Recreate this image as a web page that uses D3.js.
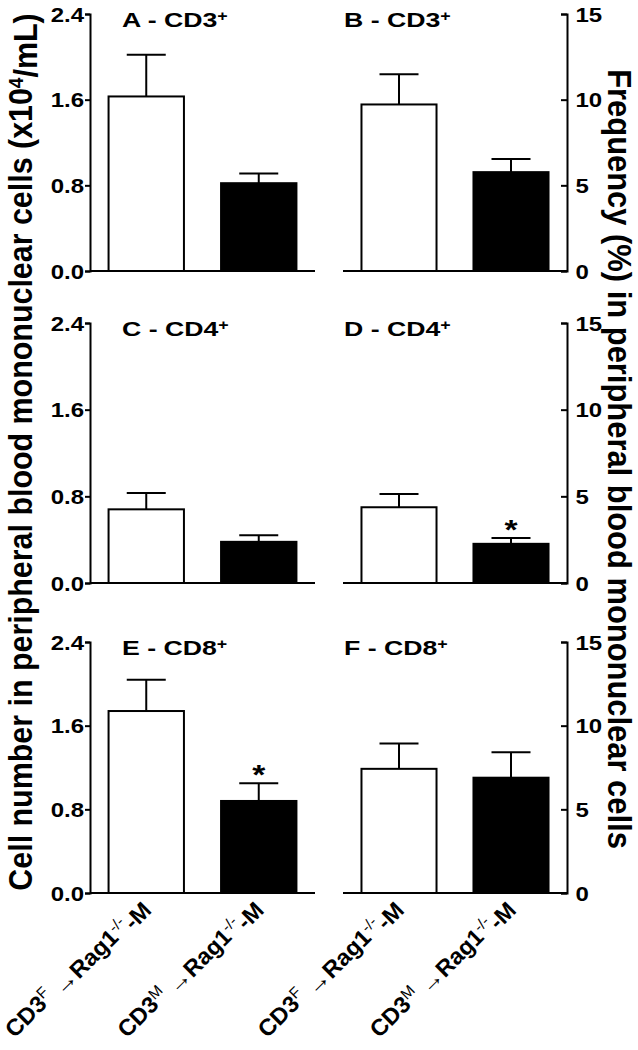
<!DOCTYPE html>
<html><head><meta charset="utf-8">
<script src="https://cdn.jsdelivr.net/npm/d3@7/dist/d3.min.js"></script>
<style>
html,body{margin:0;padding:0;background:#fff;}
text{font-family:"Liberation Sans",Arial,sans-serif;font-weight:bold;fill:#000;}
</style></head>
<body><svg id="c" width="638" height="1050"></svg>
<script>
// ---- data ----
const groups = ["CD3F-Rag1-M", "CD3M-Rag1-M"];
const groupSup = ["F", "M"];
const subsets = ["CD3", "CD4", "CD8"];
const panelLetters = [["A", "B"], ["C", "D"], ["E", "F"]];
// Cell number (x10^4/mL)
const countMean = [[1.63, 0.82], [0.68, 0.38], [1.74, 0.88]];
const countErr  = [[0.39, 0.09], [0.15, 0.06], [0.30, 0.17]];
// Frequency (%)
const freqMean = [[9.72, 5.77], [4.37, 2.26], [7.42, 6.89]];
const freqErr  = [[1.77, 0.76], [0.77, 0.33], [1.52, 1.52]];
const countTicks = [0.0, 0.8, 1.6, 2.4];
const freqTicks = [0, 5, 10, 15];
const sigCount = [false, false, true];
const sigFreq = [false, true, false];

// ---- layout ----
const svg = d3.select("#c");
const rows = [[14, 271], [323, 583], [642, 893]];
const leftX = [90, 315], rightX = [343, 567];
const SX = 1.2; // horizontal glyph widening

function panel(r, side) {
  const [top, bottom] = rows[r];
  const xr = side === 0 ? leftX : rightX;
  const x = d3.scaleBand().domain(groups).range(xr).paddingInner(0.33).paddingOuter(0.165);
  const isCount = side === 0;
  const y = d3.scaleLinear().domain(isCount ? [0, 2.4] : [0, 15]).range([bottom, top]);
  const means = isCount ? countMean[r] : freqMean[r];
  const errs = isCount ? countErr[r] : freqErr[r];
  const g = svg.append("g");

  // y axis
  const ax = isCount
    ? d3.axisLeft(y).tickValues(countTicks).tickFormat(d3.format(".1f")).tickSize(5).tickPadding(0)
    : d3.axisRight(y).tickValues(freqTicks).tickFormat(d3.format("d")).tickSize(-6).tickPadding(7);
  const ag = g.append("g").attr("transform", `translate(${isCount ? xr[0] : xr[1]},0)`).call(ax);
  ag.select(".domain").attr("stroke", "#000").attr("stroke-width", 2);
  ag.selectAll(".tick line").attr("stroke", "#000").attr("stroke-width", 2);
  ag.selectAll(".tick text").style("font-size", "20px").style("font-family", '"Liberation Sans",Arial,sans-serif').style("font-weight", "bold")
    .attr("dy", "0.36em").attr("transform", `scale(${SX},1)`);

  // bars
  g.selectAll("rect.bar").data(groups).join("rect")
    .attr("x", d => x(d)).attr("width", x.bandwidth())
    .attr("y", (d, i) => y(means[i])).attr("height", (d, i) => y(0) - y(means[i]))
    .attr("fill", (d, i) => i === 0 ? "#fff" : "#000")
    .attr("stroke", "#000").attr("stroke-width", 2);

  // error bars (upper only)
  groups.forEach((d, i) => {
    const cx = x(d) + x.bandwidth() / 2;
    g.append("line").attr("x1", cx).attr("x2", cx).attr("y1", y(means[i])).attr("y2", y(means[i] + errs[i]))
      .attr("stroke", "#000").attr("stroke-width", 2);
    g.append("line").attr("x1", cx - 19.5).attr("x2", cx + 19.5).attr("y1", y(means[i] + errs[i])).attr("y2", y(means[i] + errs[i]))
      .attr("stroke", "#000").attr("stroke-width", 2);
  });

  // x axis line
  g.append("line").attr("x1", xr[0]).attr("x2", xr[1]).attr("y1", y(0)).attr("y2", y(0))
    .attr("stroke", "#000").attr("stroke-width", 2);

  // significance star
  const sig = isCount ? sigCount[r] : sigFreq[r];
  if (sig) {
    const cx = x(groups[1]) + x.bandwidth() / 2;
    g.append("text").attr("transform", `translate(${cx},${y(means[1] + errs[1]) + 1}) scale(${SX},1)`).attr("text-anchor", "middle")
      .style("font-size", "28px").text("*");
  }

  // panel title
  const t = g.append("text").attr("transform", `translate(${isCount ? xr[0] + 32 : xr[0] + 1},${top + 13}) scale(1.27,1)`)
    .style("font-size", "21px");
  t.append("tspan").text(panelLetters[r][side] + " - " + subsets[r]);
  t.append("tspan").attr("dy", "-0.45em").style("font-size", "14px").text("+");

  // x labels on last row
  if (r === 2) {
    groups.forEach((d, i) => {
      const cx = x(d) + x.bandwidth() / 2;
      const gl = g.append("g").attr("transform", `translate(${cx + 1},${y(0) + 13}) rotate(-45)`);
      const tl = gl.append("text").attr("text-anchor", "end").style("font-size", "21px");
      tl.append("tspan").text("CD3");
      tl.append("tspan").attr("dy", "-0.5em").style("font-size", "14px").style("font-weight", "normal").text(groupSup[i]);
      tl.append("tspan").attr("dy", "0.5em").style("font-weight", "normal").text(" \u2192");
      tl.append("tspan").text("Rag1");
      tl.append("tspan").attr("dy", "-0.5em").style("font-size", "14px").style("font-weight", "normal").text("-/-");
      tl.append("tspan").attr("dy", "0.5em").text("-M");
      const len = tl.node().getComputedTextLength();
      tl.attr("transform", `scale(${188 / len},1.1)`);
    });
  }
}
for (let r = 0; r < 3; r++) { panel(r, 0); panel(r, 1); }

// axis titles
const ltg = svg.append("g").attr("transform", "translate(32,452) rotate(-90)");
const lt = ltg.append("text").attr("text-anchor", "middle").style("font-size", "27px");
lt.append("tspan").text("Cell number in peripheral blood mononuclear cells (x10");
lt.append("tspan").attr("dy", "-0.45em").style("font-size", "17px").text("4");
lt.append("tspan").attr("dy", "0.45em").text("/mL)");
lt.attr("transform", `scale(${878 / lt.node().getComputedTextLength()},${SX})`);

const rtg = svg.append("g").attr("transform", "translate(608,459) rotate(90)");
const rt = rtg.append("text").attr("text-anchor", "middle").style("font-size", "27px")
  .text("Frequency (%) in peripheral blood mononuclear cells");
rt.attr("transform", `scale(${780 / rt.node().getComputedTextLength()},${SX})`);
</script></body></html>
